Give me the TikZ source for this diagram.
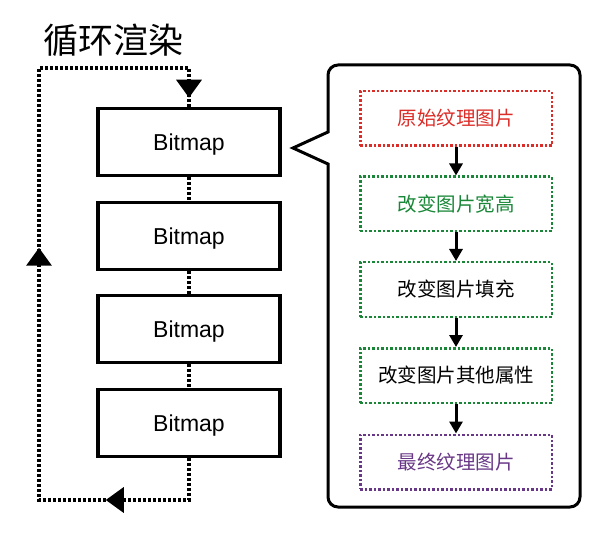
\documentclass[tikz,border=0pt]{standalone}
\usepackage{fontspec}
\setmainfont{Liberation Sans}
\newfontfamily\cjk{Noto Sans CJK SC}
\usetikzlibrary{arrows.meta,decorations.markings}

\definecolor{stagered}{RGB}{220,45,40}
\definecolor{stagegreen}{RGB}{25,135,55}
\definecolor{stagepurple}{RGB}{105,55,135}

\begin{document}
\begin{tikzpicture}[x=1pt,y=-1pt,
  bitmap/.style={draw,line width=3.5pt,minimum width=182pt,minimum height=67pt,
    text depth=0pt,font=\fontsize{23}{23}\selectfont},
  loopline/.style={line width=3.5pt,dash pattern=on 3pt off 2pt},
  stage/.style={draw,line width=2.5pt,dash pattern=on 2.5pt off 2pt,
    minimum width=191.5pt,minimum height=54.5pt,font=\cjk\fontsize{19.5}{19.5}\selectfont},
  flow/.style={-{Triangle[width=13pt,length=12pt]},line width=3pt}]
  \useasboundingbox (0,0) rectangle (615,534);

  \node[font=\cjk\fontsize{35}{35}\selectfont] (title) at (113,40) {循环渲染};

  % render loop
  \foreach \i/\y in {1/142,2/236,3/329,4/423}
    \node[bitmap] (b\i) at (189,\y) {Bitmap};
  \foreach \i/\j in {1/2,2/3,3/4}
    \draw[loopline] (b\i.south) -- (b\j.north);
  \draw[loopline,postaction={decorate},decoration={markings,
      mark=at position 125pt with {\arrow{Triangle[width=25pt,length=18pt]}},
      mark=at position 444pt with {\arrow{Triangle[width=25pt,length=18pt]}},
      mark=at position -9pt with {\arrow{Triangle[width=25pt,length=18pt]}}}]
    (b4.south) -- (189,500) -| (39,68) -| (b1.north);

  % callout
  \draw[line width=3pt] (293,148) -- (328,132) [rounded corners=10pt] -- (328,65)
    -- (580,65) -- (580,507) -- (328,507) [sharp corners] -- (328,164) -- cycle;

  \node[stage,draw=stagered,text=stagered] (s1) at (456,118.5) {原始纹理图片};
  \node[stage,draw=stagegreen,text=stagegreen] (s2) at (456,204) {改变图片宽高};
  \node[stage,draw=stagegreen] (s3) at (456,289.5) {改变图片填充};
  \node[stage,draw=stagegreen] (s4) at (456,375.5) {改变图片其他属性};
  \node[stage,draw=stagepurple,text=stagepurple] (s5) at (456,462) {最终纹理图片};
  \foreach \i/\j in {1/2,2/3,3/4,4/5}
    \draw[flow] (s\i) -- (s\j);
\end{tikzpicture}
\end{document}
